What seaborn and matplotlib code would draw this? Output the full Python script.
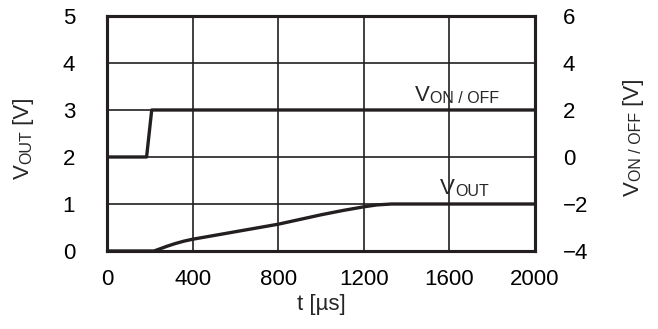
import matplotlib
matplotlib.use("Agg")
import matplotlib.pyplot as plt
import seaborn as sns

# -----------------------------
# Data
# -----------------------------
t_on = [0, 185, 209, 2000]
v_on = [0, 0, 2, 2]            # right axis, V_ON/OFF [V]

t_out = [0, 220, 250, 280, 320, 360, 400, 600, 800, 1000, 1100, 1200, 1260, 1330, 1400, 2000]
v_out = [0, 0, 0.05, 0.10, 0.16, 0.21, 0.25, 0.41, 0.57, 0.77, 0.86, 0.94, 0.98, 1.0, 1.0, 1.0]

x_ticks = [0, 400, 800, 1200, 1600, 2000]
left_ticks = [0, 1, 2, 3, 4, 5]
right_ticks = [-4, -2, 0, 2, 4, 6]
right_labels = ["\u22124", "\u22122", "0", "2", "4", "6"]

INK = "#231f20"
FS = 16
FS_SMALL = 11.5

# -----------------------------
# Style
# -----------------------------
sns.set_style("white")
plt.rcParams["font.family"] = ["Liberation Sans", "DejaVu Sans"]

fig = plt.figure(figsize=(6.58, 3.29), dpi=100)
ax = fig.add_axes([0.1626, 0.2371, 0.6505, 0.7143])
ax2 = ax.twinx()

sns.lineplot(x=t_out, y=v_out, ax=ax, color=INK, linewidth=2.4, sort=False, zorder=5)
sns.lineplot(x=t_on, y=v_on, ax=ax2, color=INK, linewidth=2.4, sort=False, zorder=5)

ax.set_xlim(0, 2000)
ax.set_ylim(0, 5)
ax2.set_ylim(-4, 6)
ax.set_xticks(x_ticks)
ax.set_yticks(left_ticks)
ax2.set_yticks(right_ticks)
ax2.set_yticklabels(right_labels)

ax.grid(True, color=INK, linewidth=1.2)
ax.set_axisbelow(True)
ax2.grid(False)

for a in (ax, ax2):
    for s in a.spines.values():
        s.set_visible(True)
        s.set_color(INK)
        s.set_linewidth(2.2)
    a.tick_params(length=0, labelsize=FS, colors="black")
ax.tick_params(axis="y", pad=23)
ax.tick_params(axis="x", pad=13)
ax2.tick_params(axis="y", pad=20)

ax.set_xlabel("t [\u00b5s]", fontsize=FS, labelpad=3)
ax.set_ylabel("")
ax2.set_ylabel("")

# -----------------------------
# Labels with small-caps style subscripts
# -----------------------------
def label(axis, x, y, main, small, **kw):
    t1 = axis.text(x, y, main, fontsize=FS, **kw)
    axis.annotate(small, xy=(1, 0), xycoords=t1, fontsize=FS_SMALL,
                  ha="left", va="bottom")
    return t1

label(ax, 1439, 3.08, "V", "ON / OFF", va="bottom")
label(ax, 1556, 1.1, "V", "OUT", va="bottom")

# rotated axis labels
def vlabel(x, y, main, small, tail):
    t1 = fig.text(x, y, main, fontsize=FS, rotation=90, ha="right", va="bottom")
    t2 = fig.text(0, 0, small, fontsize=FS_SMALL, rotation=90, ha="right", va="bottom")
    t3 = fig.text(0, 0, " " + tail, fontsize=FS, rotation=90, ha="right", va="bottom")
    fig.canvas.draw()
    inv = fig.transFigure.inverted()
    b1 = t1.get_window_extent()
    (x1, y1) = inv.transform((b1.x1, b1.y1))
    t2.set_position((x1, y1))
    b2 = t2.get_window_extent()
    (x2, y2) = inv.transform((b2.x1, b2.y1))
    t3.set_position((x1, y2))

vlabel(0.052, 0.455, "V", "OUT", "[V]")
vlabel(0.979, 0.405, "V", "ON / OFF", "[V]")

fig.savefig("out.png", dpi=100)
